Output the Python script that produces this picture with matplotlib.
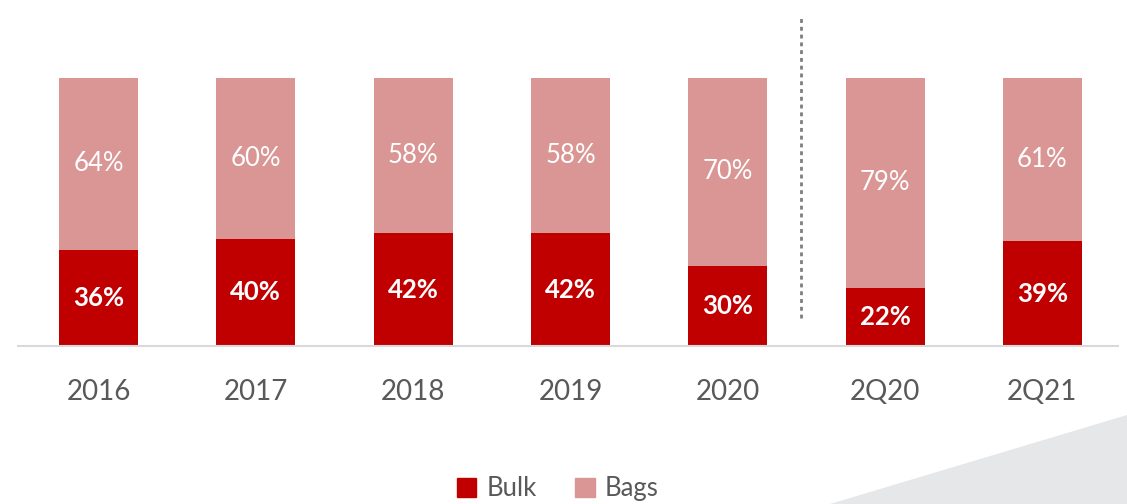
import matplotlib.pyplot as plt
from matplotlib.patches import Polygon, Patch

categories = ['2016', '2017', '2018', '2019', '2020', '2Q20', '2Q21']
bulk = [36, 40, 42, 42, 30, 22, 39]
bags = [64, 60, 58, 58, 70, 79, 61]

bulk_color = '#C00000'
bags_color = '#D99694'
text_gray = '#595959'

plt.rcParams['font.family'] = ['Lato', 'DejaVu Sans']

fig = plt.figure(figsize=(11.27, 5.04), dpi=100)

# light gray corner decoration
fig.add_artist(Polygon([(0.7365, 0), (1, 0), (1, 0.177)], closed=True,
                       transform=fig.transFigure, facecolor='#E6E7E9',
                       edgecolor='none', zorder=0))

ax = fig.add_axes([18 / 1127, (504 - 346) / 504, 1100 / 1127, 346 / 504])
ax.patch.set_alpha(0)

# 100% stacked: scale each column to its total
totals = [a + b for a, b in zip(bulk, bags)]
bulk_s = [a / t * 100 for a, t in zip(bulk, totals)]
bags_s = [b / t * 100 for b, t in zip(bags, totals)]

x = list(range(len(categories)))
w = 0.502
ax.bar(x, bulk_s, width=w, color=bulk_color, label='Bulk', zorder=2)
ax.bar(x, bags_s, width=w, bottom=bulk_s, color=bags_color, label='Bags', zorder=2)

for i in x:
    ax.text(i, bulk_s[i] / 2, f'{bulk[i]}%', ha='center', va='center',
            color='white', fontsize=18.5, fontweight='bold')
    ax.text(i, bulk_s[i] + bags_s[i] / 2, f'{bags[i]}%', ha='center', va='center',
            color='white', fontsize=18.5)

# separator between years and quarters
ax.plot([4.466, 4.466], [10.4, 123.1], color='#7F7F7F', lw=2,
        linestyle=(0, (1.4, 1.4)), zorder=1)

ax.set_xlim(-0.512, 6.481)
ax.set_ylim(0, 129.1)
ax.set_xticks(x)
ax.set_xticklabels(categories, fontsize=20, color=text_gray)
ax.tick_params(axis='x', length=0, pad=24)
ax.set_yticks([])
for s in ['top', 'right', 'left']:
    ax.spines[s].set_visible(False)
ax.spines['bottom'].set_color('#D9D9D9')
ax.spines['bottom'].set_linewidth(1.5)

handles = [Patch(color=bulk_color), Patch(color=bags_color)]
fig.legend(handles, ['Bulk', 'Bags'], loc='center', bbox_to_anchor=(0.495, 0.03),
           ncol=2, frameon=False, fontsize=18.5, labelcolor=text_gray,
           handlelength=0.75, handleheight=0.75, handletextpad=0.4,
           columnspacing=1.5)

fig.savefig('out.png', dpi=100)
